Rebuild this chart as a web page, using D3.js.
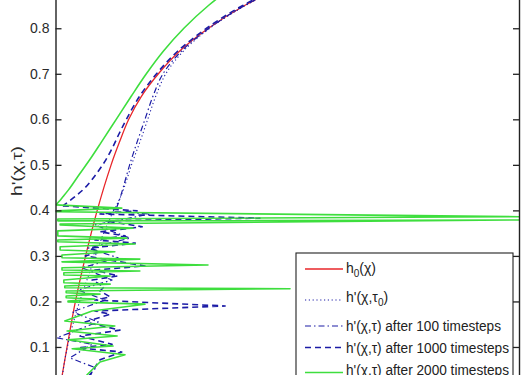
<!DOCTYPE html>
<html><head><meta charset="utf-8">
<script src="https://cdn.jsdelivr.net/npm/d3@7"></script>
<style>
html,body{margin:0;padding:0;background:#fff;}
svg{display:block;font-family:"Liberation Sans",Arial,sans-serif;}
</style></head>
<body>
<svg id="chart" width="531" height="375"></svg>
<script>
// ---------- data (x: normalised χ, y: h value) ----------
const yTicks = [0.1,0.2,0.3,0.4,0.5,0.6,0.7,0.8];
const yTickLabels = ["0.1","0.2","0.3","0.4","0.5","0.6","0.7","0.8"];
const yLabel = "h'(χ,τ)";

const h0 = [[0.008,0.00],[0.025,0.10],[0.043,0.20],[0.065,0.30],[0.090,0.40],[0.120,0.50],[0.138,0.55],[0.158,0.60],[0.185,0.65],[0.222,0.70],[0.268,0.75],[0.330,0.80],[0.408,0.85],[0.510,0.90],[0.650,0.95]];

const hTau0Upper = [[0.650,0.95],[0.510,0.90],[0.410,0.85],[0.333,0.80],[0.276,0.75],[0.238,0.70],[0.216,0.65],[0.199,0.60],[0.182,0.55],[0.164,0.50],[0.148,0.45],[0.136,0.42],[0.124,0.397]];
const hTau0Lower = [[0.124,0.397],[0.102,0.346],[0.083,0.291],[0.064,0.236],[0.046,0.181],[0.031,0.126],[0.020,0.072],[0.012,0.017]];

const h100Upper = [[0.648,0.95],[0.508,0.90],[0.408,0.85],[0.331,0.80],[0.272,0.75],[0.232,0.70],[0.210,0.65],[0.193,0.60],[0.176,0.55],[0.160,0.50],[0.146,0.45],[0.137,0.42],[0.128,0.397]];
const h100Lower = [[0.128,0.397],[0.204,0.392],[0.085,0.368],[0.161,0.339],[0.070,0.317],[0.135,0.296],[0.057,0.274],[0.122,0.247],[0.049,0.225],[0.107,0.203],[0.036,0.177],[0.092,0.155],[0.003,0.120],[0.079,0.106],[0.031,0.076],[0.087,0.054],[0.053,0.017]];

const h1000Upper = [[0.645,0.95],[0.505,0.90],[0.404,0.85],[0.326,0.80],[0.264,0.75],[0.218,0.70],[0.181,0.65],[0.153,0.60],[0.138,0.57],[0.124,0.54],[0.108,0.51],[0.088,0.48],[0.064,0.45],[0.042,0.43],[0.016,0.41]];
const h1000Lower = [[0.016,0.410],[0.176,0.399],[0.096,0.392],[0.441,0.383],[0.107,0.377],[0.187,0.364],[0.096,0.353],[0.150,0.344],[0.085,0.335],[0.172,0.328],[0.074,0.317],[0.096,0.309],[0.064,0.300],[0.193,0.278],[0.085,0.269],[0.135,0.256],[0.079,0.247],[0.105,0.232],[0.096,0.223],[0.118,0.210],[0.085,0.203],[0.366,0.190],[0.085,0.179],[0.118,0.172],[0.064,0.155],[0.139,0.137],[0.053,0.124],[0.122,0.106],[0.049,0.098],[0.143,0.089],[0.096,0.072],[0.079,0.046],[0.066,0.017]];

const h2000Upper = [[0.470,0.95],[0.395,0.90],[0.330,0.85],[0.277,0.80],[0.233,0.75],[0.196,0.70],[0.163,0.65],[0.131,0.60],[0.099,0.55],[0.073,0.51],[0.052,0.48],[0.028,0.445],[0.016,0.43],[0.008,0.42],[0.001,0.412]];
const h2000Lower = [[0.001,0.412],[0.143,0.405],[0.003,0.399],
 [0.001,0.397],[1.000,0.386],[0.005,0.381],
 [0.005,0.377],[1.000,0.379],[0.010,0.370],
 [0.010,0.368],[0.167,0.361],[0.005,0.355],
 [0.005,0.344],[0.154,0.339],[0.005,0.335],
 [0.005,0.331],[0.172,0.326],[0.010,0.320],
 [0.010,0.313],[0.128,0.309],[0.014,0.302],
 [0.014,0.296],[0.182,0.293],[0.014,0.287],
 [0.329,0.280],[0.014,0.274],
 [0.014,0.269],[0.182,0.267],[0.018,0.263],
 [0.018,0.258],[0.118,0.256],[0.018,0.247],
 [0.018,0.241],[0.118,0.238],[0.020,0.234],
 [0.020,0.230],[0.506,0.228],[0.023,0.223],
 [0.023,0.219],[0.096,0.216],[0.023,0.212],
 [0.023,0.208],[0.085,0.205],[0.027,0.201],
 [0.027,0.199],[0.193,0.194],[0.079,0.179],[0.020,0.157],
 [0.128,0.146],[0.025,0.135],
 [0.133,0.124],[0.027,0.116],
 [0.124,0.102],[0.036,0.096],
 [0.150,0.083],[0.096,0.067],[0.068,0.039],[0.053,0.006]];

const legendLabels = [
  {main:"h", sub:"0", rest:"(χ)"},
  {main:"h'(χ,τ", sub:"0", rest:")"},
  {main:"h'(χ,τ) after 100 timesteps", sub:"", rest:""},
  {main:"h'(χ,τ) after 1000 timesteps", sub:"", rest:""},
  {main:"h'(χ,τ) after 2000 timesteps", sub:"", rest:""}
];

// ---------- styles ----------
const RED = "#e8262a", GREEN = "#3ede3e", BLUE = "#1c1ca6";
const styles = [
  {color:RED,   width:1.3, dash:null},
  {color:BLUE,  width:1.1, dash:"1.2,2.6"},
  {color:BLUE,  width:1.2, dash:"6,3,1.5,3"},
  {color:BLUE,  width:1.6, dash:"6,4"},
  {color:GREEN, width:1.6, dash:null}
];

const svg = d3.select("#chart");
const x = d3.scaleLinear().domain([0,1]).range([55.5,519]);
const y = d3.scaleLinear().domain([0,1]).range([392.5,-62.8]);

svg.append("defs").append("clipPath").attr("id","plotclip")
  .append("rect").attr("x",x(0)).attr("y",y(1)).attr("width",x(1)-x(0)).attr("height",y(0)-y(1));

const plot = svg.append("g").attr("clip-path","url(#plotclip)");
const smooth = d3.line().x(d=>x(d[0])).y(d=>y(d[1])).curve(d3.curveCatmullRom.alpha(0.5));
const sharp = d3.line().x(d=>x(d[0])).y(d=>y(d[1])).curve(d3.curveLinear);

function draw(data, gen, st){
  const p = plot.append("path").attr("d", gen(data)).attr("fill","none")
    .attr("stroke", st.color).attr("stroke-width", st.width).attr("stroke-linejoin","round");
  if(st.dash) p.attr("stroke-dasharray", st.dash);
}
draw(h0, smooth, styles[0]);
draw(hTau0Upper, smooth, styles[1]); draw(hTau0Lower, sharp, styles[1]);
draw(h100Upper, smooth, styles[2]); draw(h100Lower, sharp, styles[2]);
draw(h1000Upper, smooth, styles[3]); draw(h1000Lower, sharp, styles[3]);
draw(h2000Upper, smooth, styles[4]); draw(h2000Lower, sharp, styles[4]);

// ---------- axes ----------
const left = svg.append("g").attr("transform",`translate(${x(0)},0)`)
  .call(d3.axisLeft(y).tickValues(yTicks).tickFormat((d,i)=>yTickLabels[i]).tickSizeInner(-6).tickSizeOuter(0).tickPadding(6));
const right = svg.append("g").attr("transform",`translate(${x(1)},0)`)
  .call(d3.axisRight(y).tickValues(yTicks).tickFormat("").tickSizeInner(-6).tickSizeOuter(0));
[left,right].forEach(g=>{
  g.select(".domain").attr("stroke","#222").attr("stroke-width",1.4);
  g.selectAll(".tick line").attr("stroke","#222").attr("stroke-width",1.3);
});
left.selectAll(".tick text").attr("font-size",14).attr("fill","#2a2a2a")
  .attr("font-family","Liberation Sans, Arial, sans-serif");

svg.append("text").attr("transform","translate(22,171) rotate(-90)")
  .attr("text-anchor","middle").attr("font-size",14).attr("fill","#2a2a2a")
  .attr("textLength",50).attr("lengthAdjust","spacingAndGlyphs").text(yLabel);

// ---------- legend ----------
const lg = svg.append("g");
lg.append("rect").attr("x",296).attr("y",253).attr("width",217).attr("height",140)
  .attr("fill","#fff").attr("stroke","#222").attr("stroke-width",1.1);
const rowLineY = [269,300,326,347.5,372.5];
const rowTextY = [272.5,301.5,331,352.5,375];
const rowLen = [null,null,155,163,163];
legendLabels.forEach((lab,i)=>{
  const st = styles[i];
  const ln = lg.append("line").attr("x1",305).attr("x2",343).attr("y1",rowLineY[i]).attr("y2",rowLineY[i])
    .attr("stroke",st.color).attr("stroke-width",st.width);
  if(st.dash) ln.attr("stroke-dasharray",st.dash);
  const t = lg.append("text").attr("x",346).attr("y",rowTextY[i]).attr("font-size",14).attr("fill","#222");
  if(rowLen[i]) t.attr("textLength",rowLen[i]).attr("lengthAdjust","spacingAndGlyphs");
  t.append("tspan").text(lab.main);
  if(lab.sub){
    t.append("tspan").attr("dy",4).attr("font-size",10).text(lab.sub);
    t.append("tspan").attr("dy",-4).text(lab.rest);
  }
});
</script>
</body></html>
